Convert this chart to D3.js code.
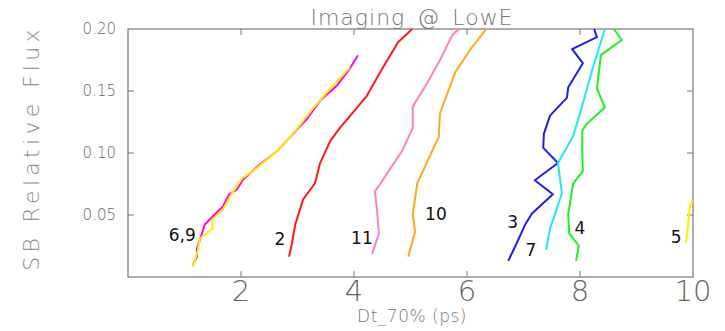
<!DOCTYPE html>
<html>
<head>
<meta charset="utf-8">
<script src="https://cdn.jsdelivr.net/npm/d3@7"></script>
<style>
  body { margin: 0; background: #fff; }
  text { font-family: "DejaVu Sans", sans-serif; }
</style>
</head>
<body>
<div id="chart"></div>
<script>
// data: [Dt_70% (ps), SB relative flux]
var run6 = [[1.15,0.0098],[1.22,0.0163],[1.22,0.0228],[1.36,0.0423],[1.50,0.0488],[1.68,0.0569],[1.79,0.0667],[1.93,0.0707],[2.04,0.0789],[2.30,0.0894],[2.64,0.1016],[2.92,0.1154],[3.17,0.1276],[3.40,0.1423],[3.70,0.1545],[3.93,0.1683],[4.07,0.1789]];
var run9 = [[1.15,0.0081],[1.24,0.0220],[1.27,0.0309],[1.50,0.0390],[1.49,0.0463],[1.68,0.0545],[1.84,0.0675],[2.02,0.0797],[2.28,0.0878],[2.64,0.1016],[2.99,0.1195],[3.27,0.1358],[3.58,0.1520],[3.93,0.1691]];
var run2 = [[2.85,0.0163],[2.90,0.0268],[2.96,0.0423],[3.10,0.0626],[3.31,0.0756],[3.40,0.0919],[3.58,0.1098],[3.75,0.1203],[3.98,0.1325],[4.23,0.1463],[4.46,0.1650],[4.78,0.1894],[5.03,0.2000]];
var run11 = [[4.32,0.0187],[4.44,0.0350],[4.41,0.0528],[4.37,0.0691],[4.46,0.0748],[4.85,0.1016],[5.04,0.1203],[5.04,0.1374],[5.29,0.1561],[5.52,0.1748],[5.74,0.1951],[5.86,0.2000]];
var run10 = [[4.96,0.0163],[5.08,0.0366],[5.04,0.0504],[5.12,0.0756],[5.50,0.1130],[5.52,0.1317],[5.79,0.1650],[6.05,0.1829],[6.34,0.2000]];
var run3 = [[6.73,0.0130],[6.85,0.0244],[7.03,0.0423],[7.15,0.0512],[7.52,0.0667],[7.20,0.0780],[7.61,0.0919],[7.35,0.1041],[7.36,0.1154],[7.47,0.1301],[7.77,0.1447],[7.79,0.1528],[8.05,0.1724],[7.86,0.1837],[8.30,0.1935],[8.25,0.2000]];
var run7 = [[7.40,0.0220],[7.47,0.0390],[7.68,0.0675],[7.61,0.0919],[7.88,0.1138],[8.05,0.1398],[8.23,0.1691],[8.44,0.2000]];
var run4 = [[7.93,0.0130],[7.98,0.0252],[7.81,0.0350],[7.79,0.0504],[7.88,0.0756],[8.05,0.0854],[8.04,0.1016],[8.04,0.1179],[8.12,0.1236],[8.44,0.1366],[8.30,0.1520],[8.37,0.1789],[8.74,0.1911],[8.60,0.2000]];
var run5 = [[9.88,0.0276],[9.95,0.0585],[10.0,0.0618]];

var runs = [run6, run9, run2, run11, run10, run3, run7, run4, run5];
var runColors = ["#ff00ff", "#ffee00", "#ff1a1a", "#ff80c0", "#ffa820", "#1f1fe0", "#22e8f0", "#22ee22", "#ffee00"];

// run labels: text and the data point they sit at
var labelText = ["6,9", "2", "11", "10", "3", "7", "4", "5"];
var labelAt = [[0.96,0.0341],[2.69,0.0309],[4.14,0.0317],[5.45,0.0512],[6.81,0.0447],[7.13,0.0220],[8.0,0.0398],[9.70,0.0325]];

var xTicks = [2, 4, 6, 8, 10];
var yTicks = [0.05, 0.10, 0.15, 0.20];

var svgWidth = 725, svgHeight = 331;
var margin = {top: 29, right: 32, bottom: 54, left: 128};
var width = svgWidth - margin.left - margin.right;
var height = svgHeight - margin.top - margin.bottom;

var svg = d3.select("#chart").append("svg")
  .attr("width", svgWidth)
  .attr("height", svgHeight);

var chartGroup = svg.append("g")
  .attr("transform", `translate(${margin.left}, ${margin.top})`);

var xScale = d3.scaleLinear().domain([0, 10]).range([0, width]);
var yScale = d3.scaleLinear().domain([0, 0.20]).range([height, 0]);

var axisColor = "#777";

// frame
chartGroup.append("rect")
  .attr("width", width)
  .attr("height", height)
  .attr("fill", "none")
  .attr("stroke", axisColor)
  .attr("stroke-width", 1.2);

// inward ticks on all four sides
var tickLen = 6;
var innerX = xTicks.filter(d => d < 10);
var innerY = yTicks.filter(d => d < 0.20);
chartGroup.selectAll(".xtb").data(innerX).enter().append("line")
  .attr("x1", d => xScale(d)).attr("x2", d => xScale(d))
  .attr("y1", height).attr("y2", height - tickLen)
  .attr("stroke", axisColor);
chartGroup.selectAll(".xtt").data(innerX).enter().append("line")
  .attr("x1", d => xScale(d)).attr("x2", d => xScale(d))
  .attr("y1", 0).attr("y2", tickLen)
  .attr("stroke", axisColor);
chartGroup.selectAll(".ytl").data(innerY).enter().append("line")
  .attr("y1", d => yScale(d)).attr("y2", d => yScale(d))
  .attr("x1", 0).attr("x2", tickLen)
  .attr("stroke", axisColor);
chartGroup.selectAll(".ytr").data(innerY).enter().append("line")
  .attr("y1", d => yScale(d)).attr("y2", d => yScale(d))
  .attr("x1", width).attr("x2", width - tickLen)
  .attr("stroke", axisColor);

// tick labels
chartGroup.selectAll(".xlab").data(xTicks).enter().append("text")
  .attr("x", d => xScale(d))
  .attr("y", height + 24)
  .attr("text-anchor", "middle")
  .attr("font-size", "29px")
  .attr("font-weight", 200)
  .attr("fill", "#666")
  .text(d => d);

chartGroup.selectAll(".ylab").data(yTicks).enter().append("text")
  .attr("x", -12)
  .attr("y", d => yScale(d) + 5)
  .attr("text-anchor", "end")
  .attr("font-size", "15px")
  .attr("font-weight", 200)
  .attr("fill", "#666")
  .text(d => d.toFixed(2));

// runs
var line = d3.line()
  .x(d => xScale(d[0]))
  .y(d => yScale(d[1]));

chartGroup.selectAll(".run").data(runs).enter().append("path")
  .attr("d", line)
  .attr("fill", "none")
  .attr("stroke", (d, i) => runColors[i])
  .attr("stroke-width", 2)
  .attr("stroke-linejoin", "round");

// run numbers
chartGroup.selectAll(".runlab").data(labelText).enter().append("text")
  .attr("x", (d, i) => xScale(labelAt[i][0]))
  .attr("y", (d, i) => yScale(labelAt[i][1]) + 6)
  .attr("text-anchor", "middle")
  .attr("font-family", "'Open Sans', sans-serif")
  .attr("font-size", "17px")
  .attr("fill", "#111")
  .text(d => d);

// title and axis labels
svg.append("text")
  .attr("x", 412)
  .attr("y", 25)
  .attr("text-anchor", "middle")
  .attr("font-size", "22px")
  .attr("font-weight", 200)
  .attr("letter-spacing", "1px")
  .attr("word-spacing", "4px")
  .attr("fill", "#777")
  .text("Imaging @ LowE");

svg.append("text")
  .attr("x", 412)
  .attr("y", 322)
  .attr("text-anchor", "middle")
  .attr("font-size", "17px")
  .attr("font-weight", 200)
  .attr("letter-spacing", "0.5px")
  .attr("fill", "#777")
  .text("Dt_70% (ps)");

svg.append("text")
  .attr("transform", "translate(39, 148) rotate(-90)")
  .attr("text-anchor", "middle")
  .attr("font-size", "22px")
  .attr("font-weight", 200)
  .attr("letter-spacing", "4.3px")
  .attr("fill", "#888")
  .text("SB Relative Flux");
</script>
</body>
</html>
